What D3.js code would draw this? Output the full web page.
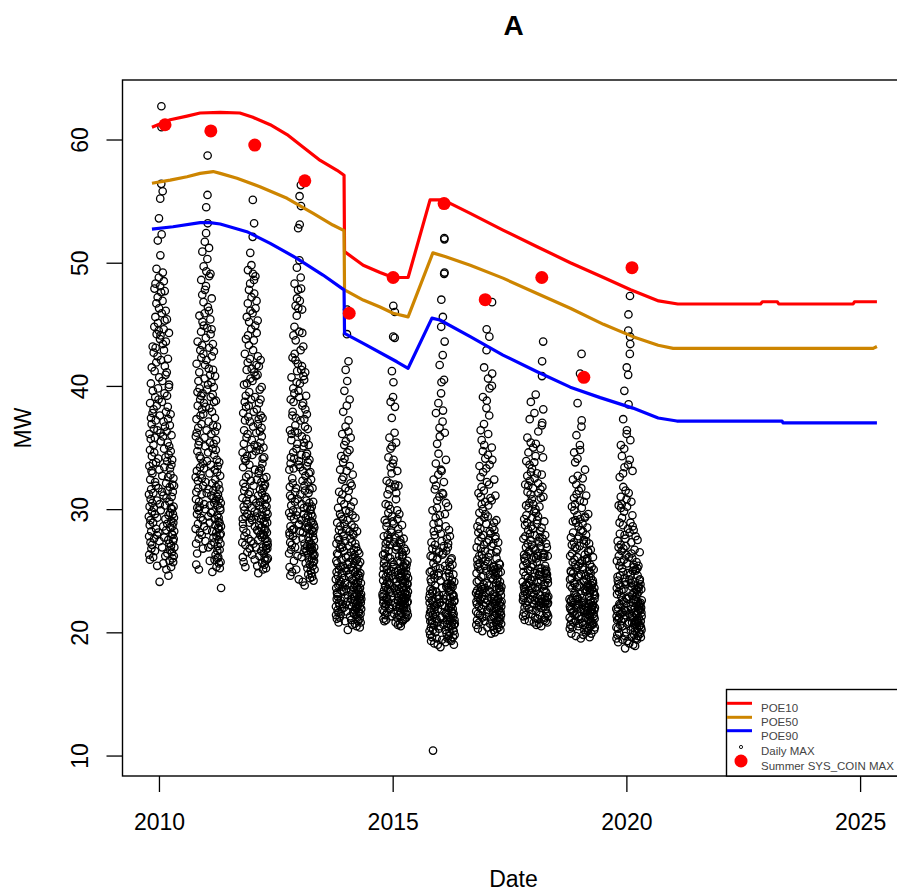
<!DOCTYPE html>
<html>
<head>
<meta charset="utf-8">
<script src="https://cdn.jsdelivr.net/npm/d3@7"></script>
<style>
  body { margin: 0; background: #fff; }
  svg { display: block; }
  text { font-family: "Liberation Sans", Arial, sans-serif; }
</style>
</head>
<body>
<svg id="chart" width="897" height="891"></svg>
<script>
// ---- axis ticks ----
const xTicks = [2010, 2015, 2020, 2025];
const yTicks = [10, 20, 30, 40, 50, 60];

// ---- forecast lines: [decimal year, MW] ----
const poe10 = [[2009.85,61.0],[2010.24,61.6],[2010.60,61.9],[2010.88,62.15],[2011.31,62.2],[2011.73,62.15],[2012.01,61.8],[2012.38,61.2],[2012.74,60.4],[2013.08,59.4],[2013.45,58.3],[2013.81,57.5],[2013.96,57.1],
  [2013.97,50.9],[2014.37,49.8],[2014.73,49.2],[2015.01,48.8],[2015.33,48.8],[2015.80,55.1],[2016.08,55.1],[2016.66,54.0],[2017.36,52.65],[2018.09,51.3],[2018.80,50.0],[2019.51,48.8],[2020.09,47.8],[2020.69,46.9],[2021.10,46.65],[2022.87,46.65],[2022.91,46.83],[2023.23,46.83],[2023.26,46.65],[2024.85,46.65],[2024.88,46.83],[2025.36,46.83]];
const poe50 = [[2009.85,56.45],[2010.24,56.7],[2010.60,56.98],[2010.88,57.25],[2011.16,57.4],[2011.31,57.25],[2011.67,56.85],[2012.16,56.17],[2012.74,55.23],[2013.30,54.0],[2013.72,53.06],[2013.96,52.6],
  [2013.97,47.8],[2014.37,46.97],[2014.73,46.4],[2015.01,45.9],[2015.33,45.6],[2015.86,50.8],[2016.12,50.5],[2016.66,49.8],[2017.36,48.75],[2018.09,47.5],[2018.80,46.3],[2019.51,45.0],[2020.14,44.0],[2020.68,43.3],[2021.00,43.05],[2025.28,43.05],[2025.36,43.2]];
const poe90 = [[2009.85,52.73],[2010.30,52.92],[2010.88,53.25],[2011.09,53.25],[2011.31,53.14],[2011.88,52.52],[2012.38,51.57],[2012.95,50.36],[2013.51,49.0],[2013.96,47.8],
  [2013.97,44.27],[2014.37,43.46],[2015.09,41.96],[2015.33,41.43],[2015.84,45.5],[2016.01,45.35],[2016.66,44.0],[2017.36,42.5],[2018.09,41.15],[2018.80,39.9],[2019.44,39.05],[2020.14,38.2],[2020.68,37.4],[2021.08,37.15],[2023.33,37.15],[2023.35,37.0],[2025.36,37.0]];

// ---- summer coincident maximum per season ----
const summerDates = [2010.13, 2011.11, 2012.05, 2013.12, 2014.07, 2015.01, 2016.10, 2016.98, 2018.19, 2019.09, 2020.12];
const summerMW    = [61.2, 60.7, 59.55, 56.65, 45.9, 48.8, 54.8, 47.0, 48.8, 40.7, 49.6];

// ---- daily maximum demand (MW), one value per day from 14 October of the previous year ----
const seasonYears = [2010, 2011, 2012, 2013, 2014, 2015, 2016, 2017, 2018, 2019, 2020];
const daily2010 = [29.4,31.2,27.8,26.3,33.5,36.1,30.2,28.7,25.9,34.8,38.6,32.4,29.1,27.3,30.8,35.7,40.2,37.4,31.6,28.2,
26.8,33.1,36.9,41.5,34.3,29.8,27.1,30.5,32.9,37.8,43.2,39.6,33.7,28.9,26.1,31.3,35.2,38.1,42.7,36.5,
30.1,27.6,34.6,44.8,47.9,41.2,35.8,29.6,26.6,32.2,39.1,45.6,48.3,43.1,37.2,31.9,28.4,33.8,41.9,46.7,
49.5,44.2,38.4,30.7,27.9,25.4,29.3,36.4,42.4,47.2,51.8,45.1,39.8,34.1,28.1,31.7,38.9,44.5,48.8,53.6,
46.3,40.7,33.2,27.4,24.1,30.4,37.6,43.8,48.1,55.2,50.6,44.1,36.2,29.9,35.5,42.1,47.6,56.4,62.7,61.0,
52.3,45.9,38.7,31.4,26.9,32.7,40.4,46.9,55.8,49.2,43.4,35.9,28.6,25.6,31.1,37.1,44.6,48.5,42.9,34.9,
27.7,33.4,39.4,45.3,47.7,41.6,36.7,30.3,26.2,29.2,34.2,40.9,46.1,43.6,37.9,32.1,28.3,25.1,30.9,36.3,
41.1,45.4,39.2,33.9,28.8,26.4,31.5,35.4,38.3,42.2,37.3,32.6,27.5,24.6,29.5,34.4,39.9,44.3,40.1,35.1,
30.6,27.2,25.8,31.8,36.8,33.3,29.7,26.7,28.5,32.8,37.7,34.7,30.1,27.0,25.3,29.0,33.6,36.0,31.0,28.0,
26.5,30.0,34.0,32.0,28.6,26.0,27.9,31.4,29.6,27.4,25.7,28.9,32.5,30.2,27.6,26.2,29.3,31.9,28.2,26.9];
const daily2011 = [28.4,32.6,35.9,30.8,27.2,25.5,31.4,37.3,41.8,36.2,33.1,29.6,26.4,30.1,34.7,39.5,43.6,38.4,32.3,28.8,
31.7,36.6,40.4,35.2,29.9,27.6,25.1,30.6,35.5,41.1,45.7,39.8,34.3,30.2,28.1,33.4,38.9,42.9,37.6,32.8,
29.3,34.1,39.2,44.4,48.6,42.3,36.9,31.2,27.9,32.5,38.1,43.3,47.4,50.9,45.2,39.4,33.7,29.1,26.8,31.9,
37.7,42.6,46.8,49.7,44.9,38.6,33.3,28.6,30.4,35.8,40.6,45.9,51.7,47.8,41.7,35.1,30.0,27.4,32.2,38.3,
43.9,48.1,52.4,54.5,49.3,42.1,36.4,31.3,28.3,33.9,39.7,44.7,50.3,55.5,58.7,53.2,46.4,40.1,34.6,29.4,
26.9,31.6,37.1,41.4,46.1,51.2,48.9,43.1,38.2,32.9,28.9,25.8,30.3,35.4,40.9,45.4,49.1,44.2,39.1,33.6,
29.7,27.1,31.1,36.1,40.3,44.6,47.1,42.4,37.9,32.1,28.2,24.9,29.8,34.9,39.3,43.4,41.3,36.8,31.5,27.7,
30.9,35.3,39.9,42.8,38.7,34.4,30.5,27.3,25.9,29.2,33.2,37.4,40.8,36.3,32.4,28.7,26.3,30.7,34.8,38.8,
35.6,31.8,28.1,25.3,27.8,31.0,34.0,36.7,33.0,29.5,26.6,26.0,27.0,30.3,33.5,31.2,28.5,26.1,29.0,32.0,
29.3,27.5,25.6,28.4,30.8,33.8,31.6,28.9,26.7,25.2,27.9,30.1,32.7,29.9,27.2,25.7,28.0,30.5,28.6,23.6];
const daily2012 = [27.3,30.9,34.6,29.2,26.1,28.8,33.4,37.8,32.1,28.4,25.7,30.2,35.3,40.1,36.4,31.5,27.8,29.9,34.1,38.7,
42.6,37.2,31.8,27.1,25.3,29.4,33.9,39.2,43.8,38.3,32.6,28.1,30.7,35.8,41.3,45.6,40.2,34.3,29.6,26.5,
30.4,36.1,41.9,46.7,49.4,44.1,37.5,31.2,27.6,32.8,38.4,43.3,47.8,45.2,39.5,33.6,28.9,26.8,31.4,37.1,
42.2,48.3,50.8,46.1,40.6,34.9,29.3,27.4,32.3,38.9,44.6,49.8,47.2,41.4,35.6,30.1,26.3,29.1,34.4,40.4,
45.9,52.1,55.1,49.1,42.9,36.7,30.8,27.2,31.9,37.9,43.7,48.6,53.2,47.5,41.1,35.2,29.8,25.9,28.6,33.2,
39.1,44.9,48.9,46.3,40.8,34.7,29.4,26.9,30.5,36.2,41.7,46.9,44.3,38.1,32.4,28.3,25.4,29.7,35.1,40.9,
45.3,42.4,36.9,31.1,27.5,24.8,28.2,32.9,37.3,41.6,38.6,33.1,28.7,26.2,30.3,34.8,39.7,36.3,31.6,27.9,
30.6,35.4,38.9,42.1,37.6,33.3,29.2,26.6,28.5,32.2,36.6,39.9,35.9,31.3,27.7,25.6,29.5,33.7,37.4,34.1,
30.0,26.9,25.1,28.0,31.7,35.0,32.5,29.0,26.4,27.9,30.9,34.2,31.9,28.4,26.0,25.5,28.8,32.0,30.4,27.6,
25.8,28.3,31.0,29.3,26.7,25.2,27.0,29.8,32.6,30.2,27.3,25.9,28.1,30.8,28.9,26.8,27.4,29.6,27.1,26.0];
const daily2013 = [26.4,29.7,33.2,28.1,25.3,27.9,31.8,36.4,31.1,27.3,24.6,28.6,33.7,38.9,34.2,29.4,26.7,30.3,35.6,40.7,
36.1,30.9,27.1,24.9,28.3,32.5,37.6,42.3,37.9,32.1,27.8,29.9,34.6,39.8,44.1,38.7,33.3,28.4,25.8,29.2,
34.1,39.4,44.8,48.3,42.6,36.3,30.6,26.9,31.4,36.8,42.1,46.5,43.7,37.4,31.7,27.5,25.1,29.5,34.9,40.3,
45.7,49.6,47.1,41.2,35.3,29.8,26.2,30.8,36.2,41.8,47.8,52.8,46.3,39.6,33.6,28.7,24.3,28.8,33.9,39.1,
44.4,50.2,55.4,53.1,46.9,40.2,33.4,28.2,31.2,37.2,42.9,48.8,56.3,54.6,47.9,41.3,34.4,29.1,26.1,30.4,
35.9,41.6,46.2,44.3,38.4,32.3,27.6,24.1,28.1,33.1,38.6,43.2,40.8,35.1,29.6,26.5,30.1,35.4,40.5,37.3,
31.9,27.2,23.8,26.8,31.5,36.7,41.1,38.1,32.7,28.5,25.6,29.3,34.3,39.2,35.7,30.7,26.6,28.9,33.5,37.7,
34.5,30.2,27.0,25.2,28.4,32.2,36.5,33.8,29.5,26.3,24.7,27.7,31.3,35.2,32.9,28.6,25.9,27.4,30.5,34.0,
31.6,28.0,25.5,24.4,26.9,29.9,33.0,30.0,27.2,25.0,26.6,29.0,32.4,29.6,26.8,24.8,27.1,30.2,28.3,26.0,
24.5,26.7,29.4,31.7,28.9,26.4,25.4,27.8,30.6,28.2,25.7,24.2,26.2,28.7,27.5,25.8,26.9,28.5,26.3,25.1];
const daily2014 = [24.3,22.1,21.4,23.6,25.8,27.2,24.9,22.7,21.1,23.2,26.4,28.9,25.6,23.1,21.8,22.9,24.6,27.7,30.1,26.3,
23.8,21.6,20.8,22.4,25.1,28.3,31.4,27.5,24.2,22.2,21.2,23.9,26.8,29.6,33.2,28.6,25.3,22.6,21.5,24.1,
27.1,30.7,34.3,29.4,25.9,23.4,21.9,24.8,28.1,32.4,36.1,31.2,26.9,23.7,22.3,25.4,29.2,33.8,37.9,32.6,
27.8,24.4,22.0,23.3,26.6,30.4,35.2,39.6,34.1,28.8,25.2,22.8,20.9,24.0,27.4,31.7,36.7,41.3,35.5,29.9,
26.1,23.5,21.7,25.0,28.4,33.1,38.4,44.2,46.2,40.4,34.6,29.1,25.5,22.5,20.2,23.0,26.2,30.9,36.3,42.0,
37.2,31.5,27.0,24.5,22.2,25.7,29.8,34.8,38.9,33.5,28.2,24.7,21.3,23.8,27.6,32.1,35.8,30.2,26.5,23.4,
21.0,22.7,25.3,28.7,31.9,27.3,24.3,22.1,20.6,23.1,26.0,29.5,32.8,28.0,25.0,22.4,21.6,24.2,27.9,30.6,
26.7,23.6,21.5,22.9,25.6,28.5,26.3,23.9,21.8,20.7,22.6,24.9,27.2,29.3,25.8,23.2,21.4,22.3,24.5,26.9,
24.0,22.0,20.5,21.9,23.7,25.9,28.2,25.2,23.0,21.2,22.5,24.7,26.6,24.1,22.2,20.9,21.7,23.5,25.5,23.3,
21.6,22.8,24.4,26.4,24.6,22.6,21.1,20.4,22.1,23.6,25.7,24.8,22.9,21.5,20.8,22.4,24.0,23.1,21.9,22.7];
const daily2015 = [23.1,21.8,22.9,24.7,26.3,24.2,22.4,21.1,22.6,25.2,27.8,25.6,23.4,21.7,20.9,23.0,25.9,29.1,26.4,23.8,
22.1,21.4,23.7,26.8,30.4,27.2,24.5,22.3,21.0,22.8,25.4,28.6,32.3,28.9,25.1,22.7,21.6,24.1,27.4,31.2,
27.9,24.8,22.5,23.5,26.1,29.7,34.2,30.3,26.6,23.9,22.0,24.4,27.6,31.6,35.8,32.1,27.1,24.0,21.9,23.3,
26.0,30.0,34.9,38.7,33.4,28.3,25.0,22.9,21.3,24.6,28.1,32.9,37.4,41.2,35.1,29.4,25.7,23.2,22.2,25.3,
29.0,33.7,39.1,44.0,46.5,40.3,34.0,28.8,25.5,23.6,21.5,24.3,27.3,31.8,36.2,43.9,46.0,38.3,32.0,27.7,
24.9,22.4,20.8,23.4,26.7,30.8,35.4,31.3,27.0,24.1,22.1,21.2,23.8,26.9,29.9,33.1,29.2,25.8,23.1,21.7,
20.6,22.6,25.0,28.4,31.9,28.0,24.7,22.8,21.4,23.5,26.2,29.6,27.3,24.4,22.2,20.7,22.0,24.5,27.5,25.7,
23.3,21.6,20.5,22.4,24.8,27.2,25.1,23.0,21.3,22.7,24.6,26.5,28.7,26.1,23.7,21.9,20.9,22.5,24.2,26.3,
24.0,22.1,21.0,22.9,25.3,27.6,25.4,23.4,21.8,22.6,24.9,26.8,24.3,22.3,21.1,23.2,25.6,24.1,22.7,21.5,
22.8,24.5,26.6,25.2,23.6,22.0,21.2,23.1,25.5,24.7,23.0,21.7,22.4,24.0,25.8,23.9,22.5,21.4,23.3,24.4];
const daily2016 = [22.8,21.3,20.1,22.4,24.9,23.1,21.6,19.8,20.9,23.5,26.2,24.3,22.0,20.4,19.3,21.7,24.1,27.3,25.0,22.6,
21.0,19.6,20.7,23.2,26.8,29.9,26.1,23.4,21.4,10.4,20.2,22.5,25.6,28.8,32.4,28.2,24.7,22.2,20.6,19.1,
21.8,24.4,27.9,31.6,27.1,23.8,21.5,20.0,22.1,25.3,29.3,33.7,37.8,31.9,26.7,23.3,21.1,19.5,22.3,25.9,
30.1,35.3,30.7,26.0,22.9,20.8,19.0,21.9,24.6,28.4,32.8,38.6,34.5,28.9,24.8,22.7,20.3,23.0,26.5,31.0,
36.6,41.7,35.9,29.5,25.2,22.4,20.5,18.8,21.2,24.2,28.0,33.2,39.4,44.8,47.0,40.3,33.1,27.4,23.6,21.3,
19.4,22.2,26.3,31.3,37.1,42.5,45.6,38.0,31.2,26.4,23.0,20.6,22.7,27.0,32.2,40.5,49.1,52.0,51.9,49.2,
43.6,36.2,29.6,25.4,22.1,20.2,19.2,21.5,24.5,28.6,34.0,30.5,26.6,23.7,21.6,19.9,21.0,23.9,27.6,25.1,
22.9,20.7,19.5,21.4,23.6,26.9,30.2,27.2,24.0,21.8,20.4,19.7,22.0,24.8,28.3,25.7,23.3,21.2,20.0,22.4,
24.5,27.8,25.3,22.8,20.9,19.4,21.1,23.4,25.9,23.9,22.1,20.5,19.3,21.7,23.8,26.0,24.2,22.3,20.8,21.6,
23.1,25.5,23.7,21.9,20.3,19.6,21.3,22.9,24.7,23.0,21.5,20.1,19.0,20.6,22.5,24.1,22.6,21.0,19.8,20.7];
const daily2017 = [23.2,21.7,20.6,22.5,24.8,26.9,24.1,22.3,21.0,23.4,25.9,28.6,25.5,23.0,21.5,20.3,22.8,25.3,28.1,31.3,
27.4,24.2,22.1,20.8,23.1,26.2,29.7,33.5,29.0,25.6,23.3,21.4,22.6,25.1,28.4,32.6,36.4,31.0,26.8,23.7,
21.9,24.5,27.7,31.8,35.6,30.4,26.3,23.5,21.2,20.1,22.9,26.0,30.0,34.7,39.1,33.0,27.9,24.6,22.2,23.9,
27.1,31.5,36.9,41.5,35.2,29.3,25.4,22.7,20.9,23.6,26.6,30.6,34.1,29.6,25.8,23.2,21.3,22.4,25.0,28.8,
33.3,38.2,42.9,44.6,38.8,32.2,27.3,24.0,21.8,20.4,22.6,25.7,29.4,34.4,40.6,36.1,30.3,26.1,23.4,21.6,
23.8,27.5,32.0,37.6,44.0,39.8,33.6,28.2,24.7,22.0,20.7,23.3,26.4,30.9,28.0,25.2,22.8,21.1,19.9,22.1,
24.4,27.0,30.7,35.0,40.0,46.8,41.0,34.0,28.5,25.0,22.4,20.5,21.7,24.3,27.2,25.3,23.1,21.3,20.2,22.7,
25.4,28.9,32.4,28.3,25.1,22.9,21.4,20.0,22.3,24.6,27.6,31.1,27.8,24.9,22.5,20.8,21.9,24.0,26.5,29.1,
26.0,23.5,21.5,20.3,22.0,24.2,26.7,24.4,22.6,21.0,20.6,22.8,25.2,27.3,24.8,22.7,21.2,20.4,21.8,23.6,
25.6,23.8,22.2,20.9,21.6,23.3,25.5,24.1,22.4,21.1,20.2,21.7,23.4,24.9,23.0,21.4,20.7,22.1,23.7,22.5];
const daily2018 = [24.1,22.6,21.3,23.0,25.4,27.6,24.9,22.8,21.6,23.7,26.3,29.2,26.0,23.5,22.0,21.0,23.3,25.8,28.7,32.0,
27.8,24.6,22.4,21.4,23.8,26.9,30.3,33.9,29.5,26.2,23.9,22.2,23.1,25.6,28.9,32.7,35.8,31.4,27.2,24.4,
22.5,25.1,28.3,31.9,34.6,30.1,26.5,24.0,21.9,20.9,23.4,26.6,30.5,33.6,37.3,32.3,28.0,25.0,22.7,24.3,
27.5,31.2,35.4,38.7,33.0,28.6,25.3,23.2,21.5,24.2,27.1,30.8,33.3,29.3,25.9,23.6,21.8,22.9,25.5,28.4,
31.7,35.0,30.4,26.8,24.5,22.3,20.8,23.1,26.1,29.8,33.8,37.8,32.5,27.9,24.8,22.6,21.2,23.6,26.7,30.0,
34.3,39.3,35.3,29.7,26.0,23.4,21.7,20.6,22.8,25.7,28.8,32.9,29.1,26.4,24.1,22.1,21.1,23.7,26.2,29.4,
32.1,36.3,31.3,27.4,24.7,22.5,20.7,22.2,24.6,27.3,30.2,27.7,25.2,23.0,21.4,22.4,24.9,28.2,31.6,34.9,
30.9,27.0,24.2,22.0,20.5,22.7,25.2,28.5,32.8,36.8,40.8,42.0,37.0,31.8,27.6,24.5,22.3,26.1,34.2,43.6,
38.1,31.0,26.3,23.8,22.1,21.0,23.5,26.4,29.0,26.1,23.9,22.4,21.2,22.9,25.4,27.9,25.0,23.3,21.9,20.9,
22.6,24.8,27.2,25.1,23.2,21.6,22.5,24.4,26.9,24.7,22.8,21.5,20.8,22.3,24.3,26.2,24.0,22.4,21.3,22.9];
const daily2019 = [22.7,21.2,20.3,22.1,24.3,26.2,23.8,21.9,20.6,22.5,25.0,27.7,24.9,22.6,21.0,19.9,21.8,24.4,27.1,30.2,
26.4,23.6,21.6,20.4,22.8,25.7,29.0,32.4,28.1,24.8,22.4,20.8,21.7,24.0,27.3,30.9,34.6,29.9,25.9,23.2,
21.4,23.9,26.9,30.4,33.8,29.1,25.5,23.0,20.9,19.7,22.0,25.2,28.9,32.0,36.0,31.2,26.8,23.7,21.5,22.9,
26.1,29.5,34.1,38.6,32.7,27.6,24.5,22.2,20.5,22.7,25.4,28.6,31.5,27.8,24.6,22.3,20.7,21.3,23.8,27.0,
30.7,35.2,41.0,34.8,29.2,25.6,23.1,21.1,19.5,21.9,24.7,28.3,31.7,36.7,42.6,37.2,30.1,25.8,22.8,20.8,
22.4,25.3,28.8,32.5,28.2,25.1,22.5,20.6,19.8,22.2,24.2,27.5,30.6,27.2,24.1,21.8,20.2,21.6,23.5,26.3,
29.3,33.2,29.4,25.9,23.3,21.2,20.0,22.1,24.6,27.9,31.1,27.4,24.3,22.0,20.4,21.7,23.4,25.8,28.5,26.0,
23.7,21.5,20.1,21.8,23.9,26.6,29.6,26.5,23.6,21.4,20.3,22.3,24.5,27.2,25.0,22.9,21.0,19.6,21.3,23.2,
25.5,23.4,21.6,20.5,22.6,24.8,26.7,24.4,22.4,20.9,19.9,21.9,23.8,25.3,23.5,21.7,20.6,22.2,24.0,22.1,
20.8,22.5,24.2,26.1,24.0,22.2,20.7,21.5,23.3,25.1,23.1,21.3,20.2,21.8,23.6,22.7,21.1,20.4,22.0,23.0];
const daily2020 = [21.9,20.4,19.5,21.3,23.6,25.8,23.1,21.0,19.8,21.7,24.5,27.4,24.2,22.0,20.3,19.2,21.1,23.9,26.9,30.3,
26.2,23.3,21.2,19.9,22.3,25.4,28.9,32.6,28.0,24.6,22.2,20.6,21.5,23.8,27.1,31.0,35.2,30.1,25.7,22.9,
20.9,23.4,26.6,30.4,34.3,29.3,25.2,22.6,20.5,19.4,21.6,24.9,28.7,32.9,37.3,31.8,26.8,23.5,21.1,22.5,
25.9,29.8,34.9,39.6,33.4,27.9,24.4,21.8,19.7,18.7,21.4,24.1,27.6,31.5,27.0,23.9,21.7,20.0,22.8,26.3,
30.8,36.1,41.5,36.4,30.2,25.6,22.7,20.7,19.3,21.8,24.8,28.4,33.6,40.9,44.5,45.8,38.5,31.3,26.1,22.9,
20.8,19.1,21.5,24.3,28.1,34.0,42.6,47.3,44.0,43.4,35.6,28.9,24.7,22.1,20.2,21.9,24.0,27.3,30.6,26.4,
23.7,21.3,19.6,20.8,23.0,26.0,29.5,33.1,28.6,25.0,22.4,20.4,19.0,21.2,23.2,25.5,28.3,25.3,22.7,20.6,
19.8,21.6,23.8,26.7,24.1,22.0,20.1,18.9,20.9,22.9,25.1,27.8,25.0,22.6,20.7,19.5,21.4,23.5,25.7,23.4,
21.5,20.3,19.4,21.0,23.1,25.2,27.5,24.6,22.5,20.8,19.7,21.7,23.6,25.4,23.3,21.2,20.0,21.9,23.7,22.1,
20.5,22.2,24.2,26.5,24.3,22.3,20.6,19.9,21.8,23.9,22.4,20.9,19.6,20.4,22.0,23.5,21.6,20.2,21.3,22.6];
const dailySeasons = [daily2010, daily2011, daily2012, daily2013, daily2014, daily2015, daily2016, daily2017, daily2018, daily2019, daily2020];

// ---- legend ----
const legendLabels = ["POE10", "POE50", "POE90", "Daily MAX", "Summer SYS_COIN MAX"];
const lineColors = { poe10: "#FF0000", poe50: "#CD8500", poe90: "#0000FF" };

// ---- layout ----
const box = { left: 122.5, right: 904.5, top: 80, bottom: 776 };

const svg = d3.select("#chart");

const x = d3.scaleLinear().domain([2009.22, 2025.95]).range([box.left, box.right]);
const y = d3.scaleLinear().domain([8.34, 64.83]).range([box.bottom, box.top]);

// day index -> decimal year, each season starting on 14 October
const dailyPoints = [];
seasonYears.forEach((yr, k) => {
  const start = yr - 1 + 286 / 365;
  dailySeasons[k].forEach((v, i) => dailyPoints.push({ t: start + i / 365, v }));
});

const plot = svg.append("g");

// daily maxima as open circles
plot.append("g")
  .attr("fill", "none")
  .attr("stroke", "#000")
  .attr("stroke-width", 1.3)
  .selectAll("circle")
  .data(dailyPoints)
  .join("circle")
  .attr("cx", d => x(d.t))
  .attr("cy", d => y(d.v))
  .attr("r", 3.7);

// POE lines
const line = d3.line().x(d => x(d[0])).y(d => y(d[1]));
[[poe10, lineColors.poe10], [poe50, lineColors.poe50], [poe90, lineColors.poe90]].forEach(([data, col]) => {
  plot.append("path")
    .datum(data)
    .attr("d", line)
    .attr("fill", "none")
    .attr("stroke", col)
    .attr("stroke-width", 3.2)
    .attr("stroke-linejoin", "round");
});

// summer coincident maxima
plot.append("g")
  .attr("fill", "#FF0000")
  .selectAll("circle")
  .data(summerDates.map((t, i) => ({ t, v: summerMW[i] })))
  .join("circle")
  .attr("cx", d => x(d.t))
  .attr("cy", d => y(d.v))
  .attr("r", 6.5);

// axes
const xAxis = svg.append("g")
  .attr("transform", `translate(0,${box.bottom})`)
  .call(d3.axisBottom(x).tickValues(xTicks).tickFormat(d3.format("d")).tickSize(16).tickPadding(22));
xAxis.select(".domain").remove();
xAxis.selectAll(".tick line").attr("stroke", "#000").attr("stroke-width", 1.3);
xAxis.selectAll(".tick text").attr("font-size", 23).attr("fill", "#000")
  .attr("font-family", "'Liberation Sans', Arial, sans-serif");

const yAxis = svg.append("g")
  .attr("transform", `translate(${box.left},0)`)
  .call(d3.axisLeft(y).tickValues(yTicks).tickSize(16));
yAxis.select(".domain").remove();
yAxis.selectAll(".tick line").attr("stroke", "#000").attr("stroke-width", 1.3);
yAxis.selectAll(".tick text")
  .attr("font-size", 23).attr("fill", "#000")
  .attr("font-family", "'Liberation Sans', Arial, sans-serif")
  .attr("transform", "rotate(-90)")
  .attr("x", 0).attr("y", -34.5).attr("dy", 0)
  .attr("text-anchor", "middle");

// plot frame
svg.append("rect")
  .attr("x", box.left).attr("y", box.top)
  .attr("width", box.right - box.left).attr("height", box.bottom - box.top)
  .attr("fill", "none").attr("stroke", "#000").attr("stroke-width", 1.4);

// titles
svg.append("text").attr("x", 513.5).attr("y", 35).attr("text-anchor", "middle")
  .attr("font-size", 28).attr("font-weight", "bold").text("A");
svg.append("text").attr("x", 513.5).attr("y", 887).attr("text-anchor", "middle")
  .attr("font-size", 23).text("Date");
svg.append("text").attr("transform", "translate(31,428) rotate(-90)").attr("text-anchor", "middle")
  .attr("font-size", 23).text("MW");

// legend (bottom right, inside the frame)
const lg = svg.append("g");
lg.append("rect").attr("x", 726.5).attr("y", 689.5).attr("width", 300).attr("height", box.bottom - 689.5)
  .attr("fill", "#fff").attr("stroke", "#000").attr("stroke-width", 1.4);
const lineRows = [703.3, 717.3, 730.7];
[lineColors.poe10, lineColors.poe50, lineColors.poe90].forEach((c, i) => {
  lg.append("line").attr("x1", 727).attr("x2", 752).attr("y1", lineRows[i]).attr("y2", lineRows[i])
    .attr("stroke", c).attr("stroke-width", 3);
});
lg.append("circle").attr("cx", 741).attr("cy", 747).attr("r", 1.6)
  .attr("fill", "none").attr("stroke", "#000").attr("stroke-width", 0.9);
lg.append("circle").attr("cx", 741).attr("cy", 761).attr("r", 6.5).attr("fill", "#FF0000");
const textRows = [712, 725.5, 739.5, 755, 769.5];
legendLabels.forEach((t, i) => {
  lg.append("text").attr("x", 761).attr("y", textRows[i]).attr("font-size", 11.5)
    .attr("fill", "#444").text(t);
});
</script>
</body>
</html>
